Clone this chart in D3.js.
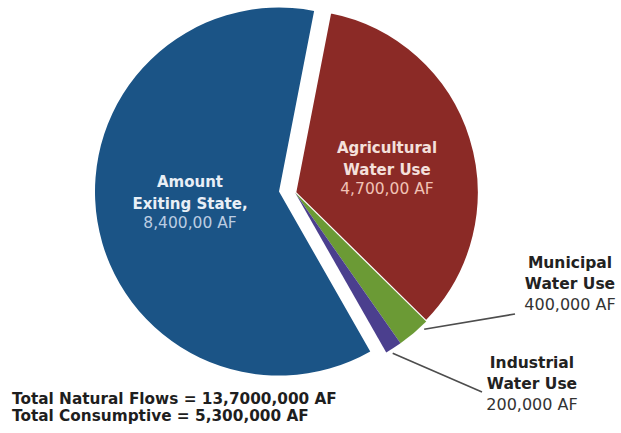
<!DOCTYPE html>
<html>
<head>
<meta charset="utf-8">
<script src="https://cdn.jsdelivr.net/npm/d3@7"></script>
<style>
  html, body { margin: 0; padding: 0; background: #ffffff; }
  svg { display: block; }
</style>
</head>
<body>
<script>
// Water budget pie: where the state's natural flows go (acre-feet)
const categories = ["Agricultural Water Use", "Municipal Water Use", "Industrial Water Use", "Amount Exiting State"];
const values = [4700000, 400000, 200000, 8400000];
const nameLines = [["Agricultural", "Water Use"], ["Municipal", "Water Use"], ["Industrial", "Water Use"], ["Amount", "Exiting State,"]];
const valueLabels = ["4,700,00 AF", "400,000 AF", "200,000 AF", "8,400,00 AF"];
const colors = ["#8b2a26", "#6b9a35", "#4b3f8e", "#1b5486"];
const totals = ["Total Natural Flows = 13,7000,000 AF", "Total Consumptive = 5,300,000 AF"];

const W = 621, H = 433;
const cx = 295, cy = 192.6, R = 184;
const rad = d => d * Math.PI / 180;

const svg = d3.select("body").append("svg").attr("width", W).attr("height", H);

const pie = d3.pie().sort(null).value(d => d).startAngle(rad(11)).endAngle(rad(371));
const arcs = pie(values);
const arc = d3.arc().innerRadius(0).outerRadius(R);

const g = svg.append("g").attr("transform", `translate(${cx},${cy})`);

// the outflow slice is pulled away from the consumptive uses
const sliceShift = [[0, 0], [0, 0], [0, 0], [-16, -1]];

g.selectAll("path.slice")
  .data(arcs)
  .join("path")
  .attr("class", "slice")
  .attr("d", arc)
  .attr("fill", (d, i) => colors[i])
  .attr("stroke", (d, i) => i === 0 ? "#ffffff" : "none")
  .attr("stroke-width", 2.5)
  .attr("transform", (d, i) => `translate(${sliceShift[i][0]},${sliceShift[i][1]})`);

const font = "'DejaVu Sans', sans-serif";

// labels inside the two large slices
const inside = [
  { i: 3, x: -105, y: -6, name: "#e9eff6", val: "#bccde2" },
  { i: 0, x: 92, y: -40, name: "#f4e0dc", val: "#f1c2b5" }
];
inside.forEach(l => {
  const t = g.append("text").attr("text-anchor", "middle").attr("font-family", font);
  nameLines[l.i].forEach((s, k) => {
    t.append("tspan").attr("x", l.x).attr("y", l.y + k * 22)
      .attr("font-size", 15).attr("font-weight", "bold").attr("fill", l.name).text(s);
  });
  t.append("tspan").attr("x", l.x).attr("y", l.y + 41)
    .attr("font-size", 15.5).attr("fill", l.val).text(valueLabels[l.i]);
});

// callouts for the two thin slices
const outside = [
  { i: 1, frac: 0.2, tx: 570, ty: 268, lx: 515, ly: 314 },
  { i: 2, frac: 0.7, tx: 532, ty: 368, lx: 482, ly: 392 }
];
outside.forEach(l => {
  const a = arcs[l.i];
  const ang = a.startAngle + l.frac * (a.endAngle - a.startAngle);
  const p = [cx + (R + 4) * Math.sin(ang), cy - (R + 4) * Math.cos(ang)];
  svg.append("line")
    .attr("x1", p[0]).attr("y1", p[1]).attr("x2", l.lx).attr("y2", l.ly)
    .attr("stroke", "#4d4d4d").attr("stroke-width", 1.6);
  const t = svg.append("text").attr("text-anchor", "middle").attr("font-family", font);
  nameLines[l.i].forEach((s, k) => {
    t.append("tspan").attr("x", l.tx).attr("y", l.ty + k * 21)
      .attr("font-size", 15.5).attr("font-weight", "bold").attr("fill", "#222").text(s);
  });
  t.append("tspan").attr("x", l.tx).attr("y", l.ty + 42)
    .attr("font-size", 16).attr("fill", "#333").text(valueLabels[l.i]);
});

// totals underneath
svg.selectAll("text.total")
  .data(totals)
  .join("text")
  .attr("class", "total")
  .attr("x", 12)
  .attr("y", (d, i) => 404 + i * 17)
  .attr("font-family", font)
  .attr("font-size", 15.3)
  .attr("font-weight", "bold")
  .attr("fill", "#1e1e1e")
  .text(d => d);
</script>
</body>
</html>
